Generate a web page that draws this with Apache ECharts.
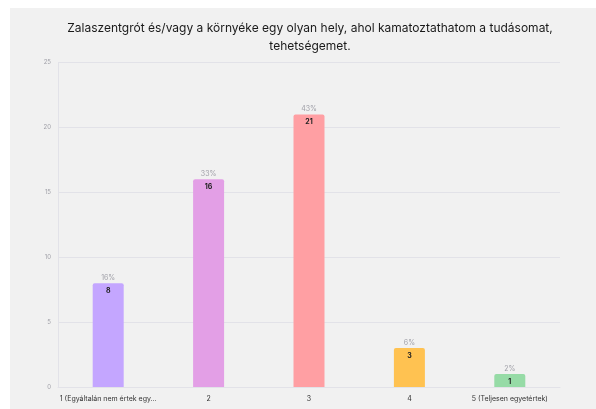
<!DOCTYPE html>
<html>
<head>
<meta charset="utf-8">
<script src="https://cdn.jsdelivr.net/npm/echarts@6/dist/echarts.min.js"></script>
<style>
  html, body { margin: 0; padding: 0; background: #fff; }
  #chart { width: 596px; height: 409px; }
</style>
</head>
<body>
<div id="chart"></div>
<script>
// adatok
const categories = ['1 (Egyáltalán nem értek egy...', '2', '3', '4', '5 (Teljesen egyetértek)']
const counts = [8, 16, 21, 3, 1]
const percents = ['16%', '33%', '43%', '6%', '2%']
const barColors = ['#c4a6ff', '#e39fe6', '#ff9fa3', '#ffc251', '#96dba6']
const yTicks = [0, 5, 10, 15, 20, 25]

const chart = echarts.init(document.getElementById('chart'))

const option = {
  backgroundColor: '#fff',
  animation: false,
  graphic: [
    {
      type: 'rect',
      left: 10,
      top: 8,
      shape: { width: 586, height: 401 },
      style: { fill: '#f1f1f1' },
      z: -10,
    },
  ],
  title: {
    text: 'Zalaszentgrót és/vagy a környéke egy olyan hely, ahol kamatoztathatom a tudásomat,\ntehetségemet.',
    left: 305,
    top: 14,
    textAlign: 'center',
    textStyle: {
      fontFamily: 'Inter',
      fontSize: 12,
      fontWeight: 'normal',
      color: '#1a1a1a',
      lineHeight: 18,
    },
  },
  grid: {
    left: 58,
    right: 36,
    top: 62.5,
    bottom: 22,
  },
  xAxis: {
    type: 'category',
    data: categories,
    axisLine: { lineStyle: { color: '#e2e2e8' } },
    axisTick: { alignWithLabel: true, length: 3, lineStyle: { color: '#d8d8de' } },
    axisLabel: {
      interval: 0,
      color: '#333',
      fontSize: 7,
      fontFamily: 'Inter',
      margin: 8,
    },
  },
  yAxis: {
    type: 'value',
    min: yTicks[0],
    max: yTicks[yTicks.length - 1],
    interval: 5,
    axisLine: { show: true, lineStyle: { color: '#e2e2e8' } },
    axisTick: { show: false },
    axisLabel: { color: '#a0a0a8', fontSize: 6, fontFamily: 'Inter', margin: 7 },
    splitLine: { lineStyle: { color: '#e2e2e8' } },
  },
  series: [
    {
      type: 'bar',
      data: counts.map((v, i) => ({ value: v, itemStyle: { color: barColors[i] } })),
      barWidth: 31,
      itemStyle: { borderRadius: [2, 2, 0, 0] },
      label: {
        show: true,
        position: 'insideTop',
        distance: 4,
        color: '#222',
        fontSize: 7,
        fontWeight: 'bold',
        fontFamily: 'Inter',
      },
    },
    {
      // átlátszó sorozat a százalékos feliratokhoz
      type: 'bar',
      data: counts,
      barWidth: 31,
      barGap: '-100%',
      itemStyle: { color: 'transparent' },
      silent: true,
      label: {
        show: true,
        position: 'top',
        distance: 2,
        color: '#a0a0a8',
        fontSize: 7,
        fontFamily: 'Inter',
        formatter: (p) => percents[p.dataIndex],
      },
    },
  ],
}

chart.setOption(option)
</script>
</body>
</html>
